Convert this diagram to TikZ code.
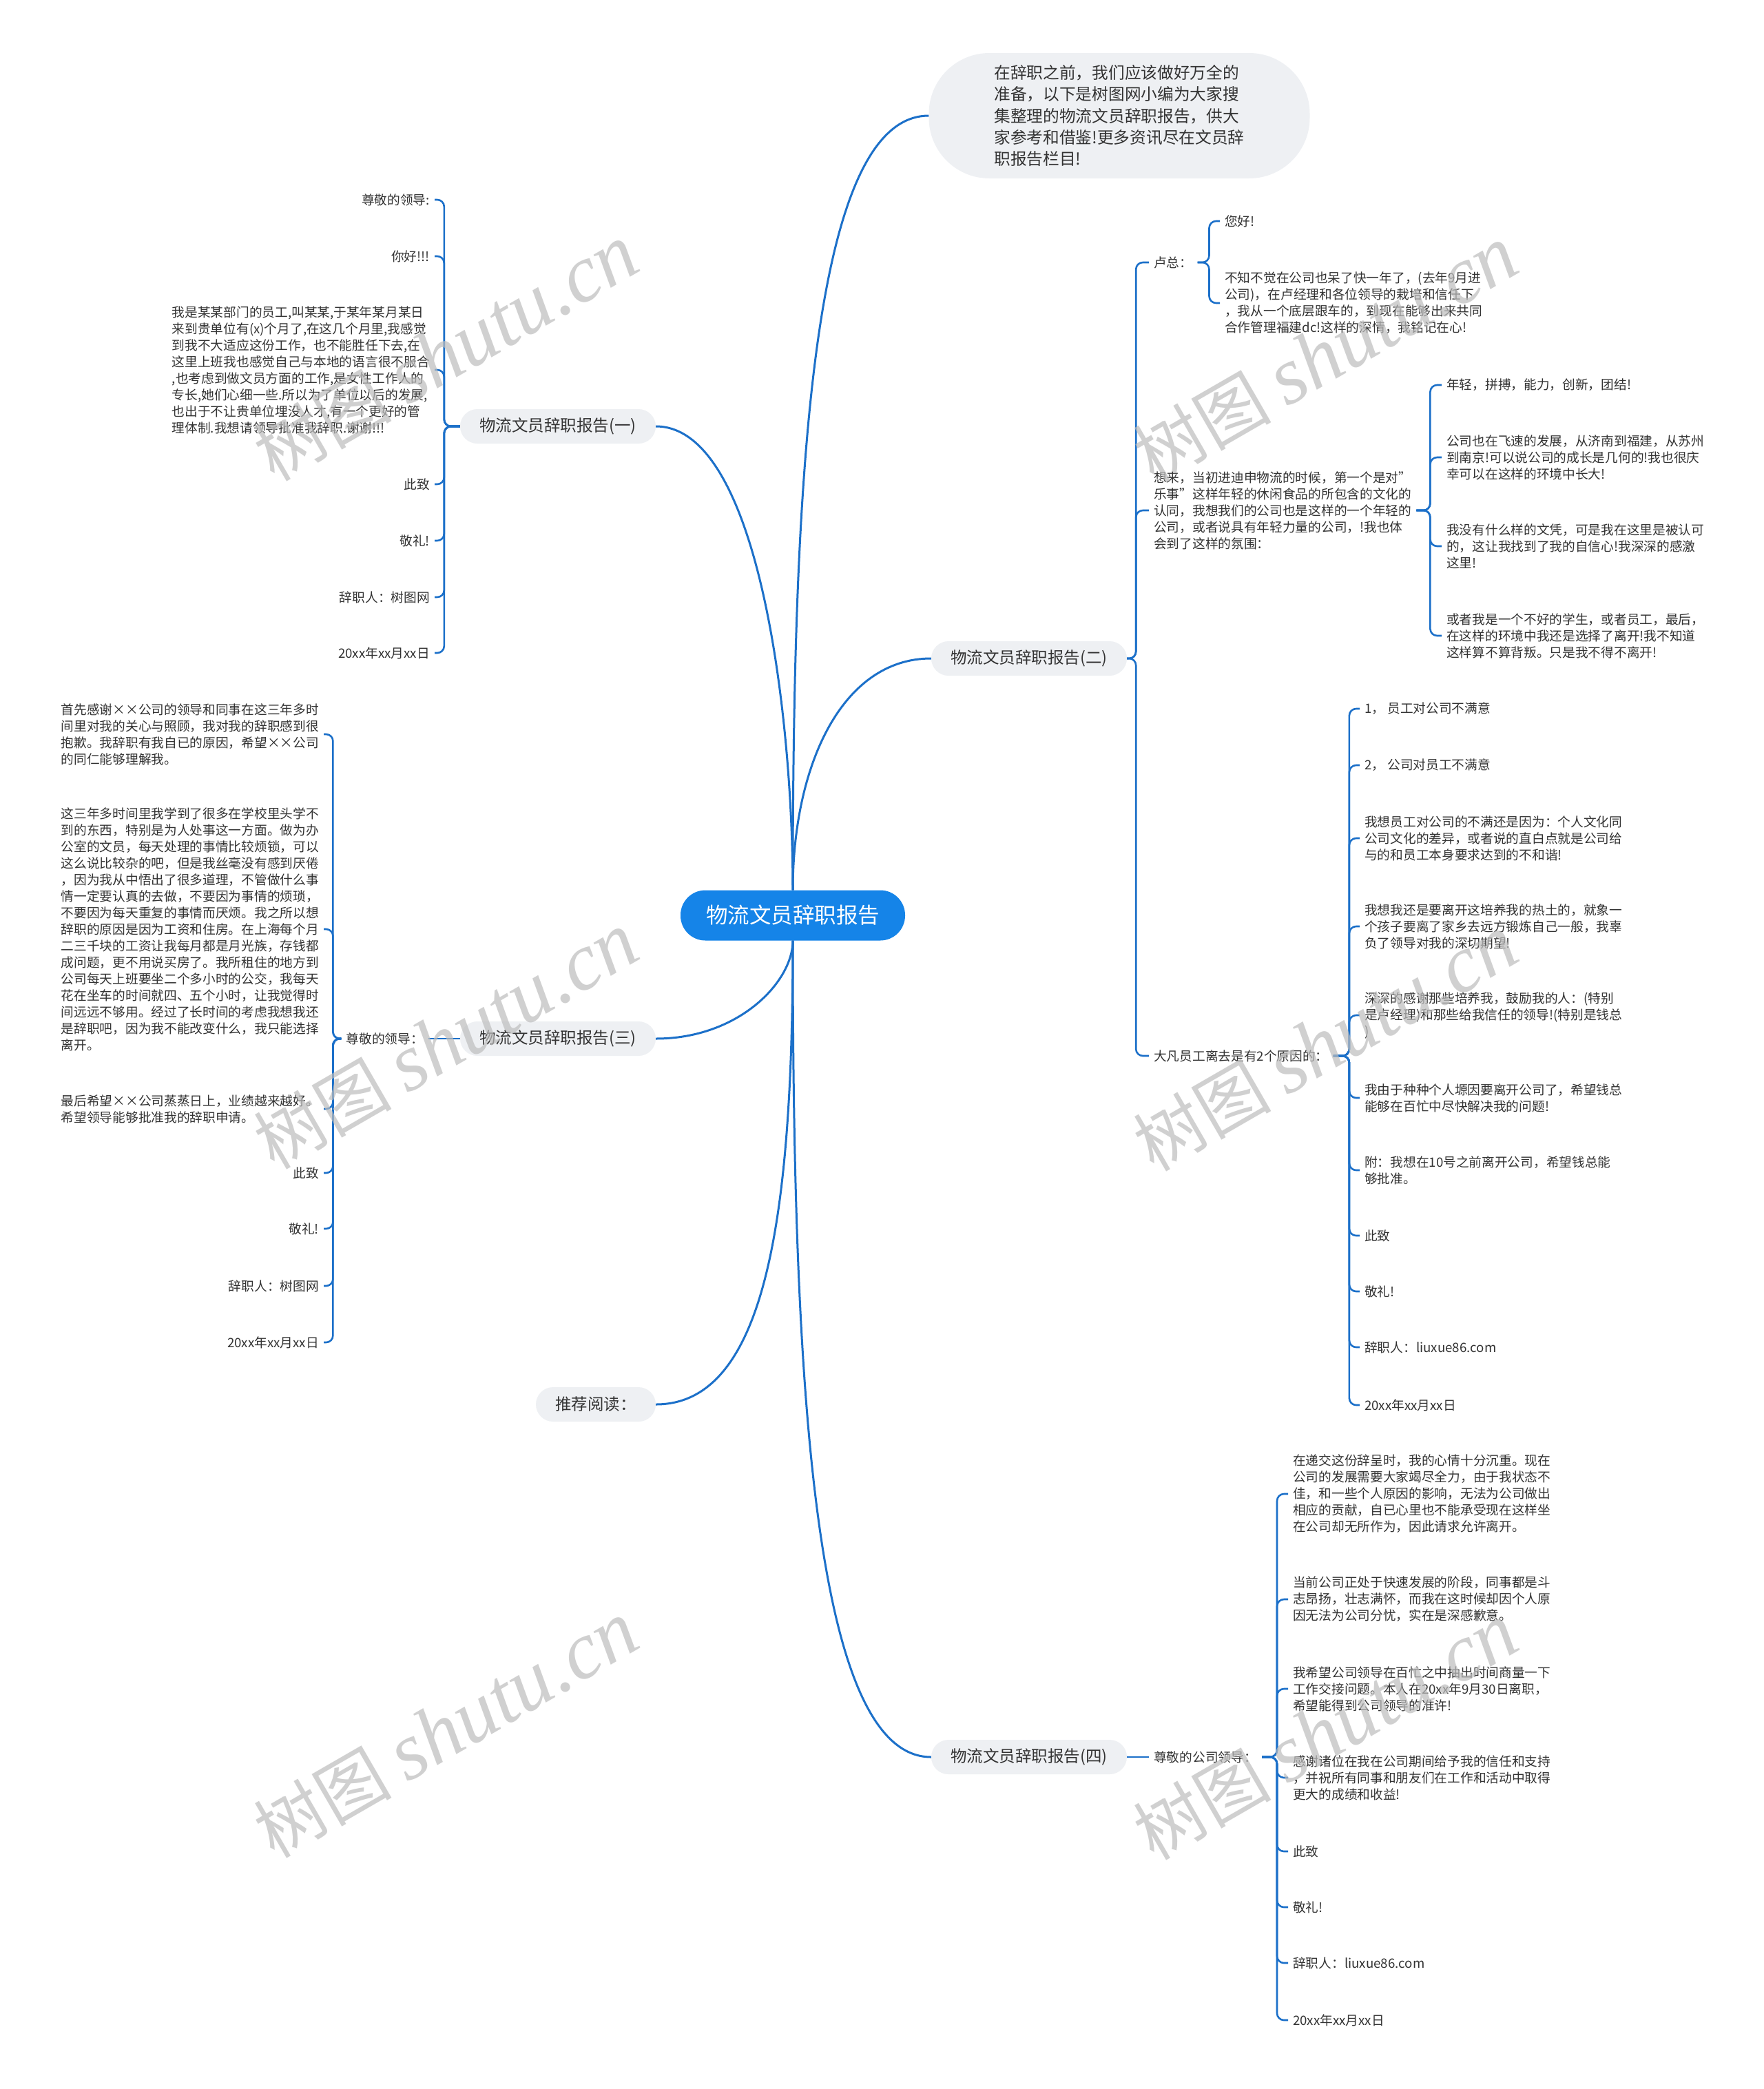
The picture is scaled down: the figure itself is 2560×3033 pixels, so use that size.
\documentclass[tikz,border=0pt]{standalone}
\usepackage{fontspec}
\setmainfont{Noto Sans CJK SC}
\newfontfamily\wmserif{Liberation Serif}
\usepackage{tikz}

\definecolor{rootblue}{HTML}{1584E8}
\definecolor{lineblue}{HTML}{1C70C9}
\definecolor{topicgray}{HTML}{EEF0F3}
\definecolor{inkgray}{HTML}{333333}
\definecolor{markgray}{HTML}{BDBDBD}

\newcommand{\rootfont}{\fontsize{31.5pt}{38pt}\selectfont}
\newcommand{\topicfont}{\fontsize{23.5pt}{28pt}\selectfont}
\newcommand{\introfont}{\fontsize{23.7pt}{31.4pt}\selectfont}
\newcommand{\leaffont}{\fontsize{18.7pt}{24pt}\selectfont}
\newcommand{\markfont}{\fontsize{100pt}{110pt}\selectfont}

\begin{document}
\begin{tikzpicture}[
  x=1pt, y=-1pt,
  root/.style={fill=rootblue, text=white, rounded corners=36pt, minimum width=326pt, minimum height=73pt, font=\rootfont},
  topic/.style={fill=topicgray, text=inkgray, rounded corners=25pt, minimum width=284pt, minimum height=50pt, font=\topicfont},
  bubble/.style={fill=topicgray, text=inkgray, rounded corners=88pt, minimum width=553pt, minimum height=182pt, align=left, font=\introfont},
  leaf/.style={text=inkgray, inner xsep=7pt, inner ysep=2pt, font=\leaffont, align=left},
  lleaf/.style={leaf, anchor=east},
  rleaf/.style={leaf, anchor=west},
  main/.style={draw=lineblue, line width=3pt},
  link/.style={draw=lineblue, line width=2.6pt, rounded corners=10pt},
  wmark/.style={rotate=30, text=markgray, text opacity=0.7, font=\markfont}
]
\fill[white] (0,0) rectangle (2560,3033);
\useasboundingbox (0,0) rectangle (2560,3033);

\node[root] (root) at (1151,1329) {物流文员辞职报告};
\node[bubble] (intro) at (1625,168) {在辞职之前，我们应该做好万全的\\准备，以下是树图网小编为大家搜\\集整理的物流文员辞职报告，供大\\家参考和借鉴!更多资讯尽在文员辞\\职报告栏目!};
\node[topic] (rep1) at (810,619) {物流文员辞职报告(一)};
\node[topic] (rep2) at (1494,956) {物流文员辞职报告(二)};
\node[topic] (rep3) at (810,1508) {物流文员辞职报告(三)};
\node[topic, minimum width=174pt] (read) at (865,2039) {推荐阅读：};
\node[topic] (rep4) at (1494,2551) {物流文员辞职报告(四)};

\draw[main] (root.north) .. controls +(0,-600) and +(-170,0) .. (intro.west);
\draw[main] (root.north) .. controls +(0,-250) and +(150,0) .. (rep1.east);
\draw[main] (root.north) .. controls +(0,-180) and +(-130,0) .. (rep2.west);
\draw[main] (root.south) .. controls +(0,60) and +(120,0) .. (rep3.east);
\draw[main] (root.south) .. controls +(0,400) and +(160,0) .. (read.east);
\draw[main] (root.south) .. controls +(0,650) and +(-170,0) .. (rep4.west);

% (一)
\node[lleaf] (a1) at (631,290) {尊敬的领导:};
\node[lleaf] (a2) at (631,372) {你好!!!};
\node[lleaf] (a3) at (631,537) {我是某某部门的员工,叫某某,于某年某月某日\\来到贵单位有(x)个月了,在这几个月里,我感觉\\到我不大适应这份工作，也不能胜任下去,在\\这里上班我也感觉自己与本地的语言很不服合\\,也考虑到做文员方面的工作,是女性工作人的\\专长,她们心细一些.所以为了单位以后的发展,\\也出于不让贵单位埋没人才,有一个更好的管\\理体制.我想请领导批准我辞职.谢谢!!!};
\node[lleaf] (a4) at (631,703) {此致};
\node[lleaf] (a5) at (631,785) {敬礼!};
\node[lleaf] (a6) at (631,867) {辞职人：树图网};
\node[lleaf] (a7) at (631,948) {20xx年xx月xx日};
\foreach \i in {1,...,7}
  \draw[link] (rep1.west) -- ++(-23,0) |- (a\i.east);

% (二)
\node[rleaf] (lz) at (1668,381) {卢总：};
\node[rleaf] (xl) at (1668,741) {想来，当初进迪申物流的时候，第一个是对"\\乐事"这样年轻的休闲食品的所包含的文化的\\认同，我想我们的公司也是这样的一个年轻的\\公司，或者说具有年轻力量的公司，!我也体\\会到了这样的氛围：};
\node[rleaf] (df) at (1668,1533) {大凡员工离去是有2个原因的：};
\foreach \n in {lz,xl,df}
  \draw[link] (rep2.east) -- ++(13,0) |- (\n.west);

\node[rleaf] (lz1) at (1771,321) {您好!};
\node[rleaf] (lz2) at (1771,440) {不知不觉在公司也呆了快一年了，(去年9月进\\公司)，在卢经理和各位领导的栽培和信任下\\，我从一个底层跟车的，到现在能够出来共同\\合作管理福建dc!这样的深情，我铭记在心!};
\foreach \i in {1,2}
  \draw[link] (lz.east) -- ++(17,0) |- (lz\i.west);

\node[rleaf] (xl1) at (2093,559) {年轻，拼搏，能力，创新，团结!};
\node[rleaf] (xl2) at (2093,664) {公司也在飞速的发展，从济南到福建，从苏州\\到南京!可以说公司的成长是几何的!我也很庆\\幸可以在这样的环境中长大!};
\node[rleaf] (xl3) at (2093,793) {我没有什么样的文凭，可是我在这里是被认可\\的，这让我找到了我的自信心!我深深的感激\\这里!};
\node[rleaf] (xl4) at (2093,923) {或者我是一个不好的学生，或者员工，最后，\\在这样的环境中我还是选择了离开!我不知道\\这样算不算背叛。只是我不得不离开!};
\foreach \i in {1,...,4}
  \draw[link] (xl.east) -- ++(20,0) |- (xl\i.west);

\node[rleaf] (df1) at (1974,1029) {1， 员工对公司不满意};
\node[rleaf] (df2) at (1974,1111) {2， 公司对员工不满意};
\node[rleaf] (df3) at (1974,1217) {我想员工对公司的不满还是因为：个人文化同\\公司文化的差异，或者说的直白点就是公司给\\与的和员工本身要求达到的不和谐!};
\node[rleaf] (df4) at (1974,1345) {我想我还是要离开这培养我的热土的，就象一\\个孩子要离了家乡去远方锻炼自己一般，我辜\\负了领导对我的深切期望!};
\node[rleaf] (df5) at (1974,1474) {深深的感谢那些培养我，鼓励我的人：(特别\\是卢经理)和那些给我信任的领导!(特别是钱总\\)};
\node[rleaf] (df6) at (1974,1594) {我由于种种个人塬因要离开公司了，希望钱总\\能够在百忙中尽快解决我的问题!};
\node[rleaf] (df7) at (1974,1699) {附：我想在10号之前离开公司，希望钱总能\\够批准。};
\node[rleaf] (df8) at (1974,1794) {此致};
\node[rleaf] (df9) at (1974,1875) {敬礼!};
\node[rleaf] (df10) at (1974,1956) {辞职人：liuxue86.com};
\node[rleaf] (df11) at (1974,2040) {20xx年xx月xx日};
\foreach \i in {1,...,11}
  \draw[link] (df.east) -- ++(23,0) |- (df\i.west);

% (三)
\node[lleaf] (zl) at (622,1508) {尊敬的领导：};
\draw[link] (rep3.west) -- (zl.east);
\node[lleaf] (c1) at (470,1066) {首先感谢××公司的领导和同事在这三年多时\\间里对我的关心与照顾，我对我的辞职感到很\\抱歉。我辞职有我自已的原因，希望××公司\\的同仁能够理解我。};
\node[lleaf] (c2) at (470,1349) {这三年多时间里我学到了很多在学校里头学不\\到的东西，特别是为人处事这一方面。做为办\\公室的文员，每天处理的事情比较烦锁，可以\\这么说比较杂的吧，但是我丝毫没有感到厌倦\\，因为我从中悟出了很多道理，不管做什么事\\情一定要认真的去做，不要因为事情的烦琐，\\不要因为每天重复的事情而厌烦。我之所以想\\辞职的原因是因为工资和住房。在上海每个月\\二三千块的工资让我每月都是月光族，存钱都\\成问题，更不用说买房了。我所租住的地方到\\公司每天上班要坐二个多小时的公交，我每天\\花在坐车的时间就四、五个小时，让我觉得时\\间远远不够用。经过了长时间的考虑我想我还\\是辞职吧，因为我不能改变什么，我只能选择\\离开。};
\node[lleaf] (c3) at (470,1610) {最后希望××公司蒸蒸日上，业绩越来越好。\\希望领导能够批准我的辞职申请。};
\node[lleaf] (c4) at (470,1703) {此致};
\node[lleaf] (c5) at (470,1784) {敬礼!};
\node[lleaf] (c6) at (470,1867) {辞职人：树图网};
\node[lleaf] (c7) at (470,1949) {20xx年xx月xx日};
\foreach \i in {1,...,7}
  \draw[link] (zl.west) -- ++(-12,0) |- (c\i.east);

% (四)
\node[rleaf] (gl) at (1668,2551) {尊敬的公司领导：};
\draw[link] (rep4.east) -- (gl.west);
\node[rleaf] (d1) at (1870,2169) {在递交这份辞呈时，我的心情十分沉重。现在\\公司的发展需要大家竭尽全力，由于我状态不\\佳，和一些个人原因的影响，无法为公司做出\\相应的贡献，自已心里也不能承受现在这样坐\\在公司却无所作为，因此请求允许离开。};
\node[rleaf] (d2) at (1870,2322) {当前公司正处于快速发展的阶段，同事都是斗\\志昂扬，壮志满怀，而我在这时候却因个人原\\因无法为公司分忧，实在是深感歉意。};
\node[rleaf] (d3) at (1870,2452) {我希望公司领导在百忙之中抽出时间商量一下\\工作交接问题。本人在20xx年9月30日离职，\\希望能得到公司领导的准许!};
\node[rleaf] (d4) at (1870,2581) {感谢诸位在我在公司期间给予我的信任和支持\\，并祝所有同事和朋友们在工作和活动中取得\\更大的成绩和收益!};
\node[rleaf] (d5) at (1870,2688) {此致};
\node[rleaf] (d6) at (1870,2769) {敬礼!};
\node[rleaf] (d7) at (1870,2850) {辞职人：liuxue86.com};
\node[rleaf] (d8) at (1870,2933) {20xx年xx月xx日};
\foreach \i in {1,...,8}
  \draw[link] (gl.east) -- ++(22,0) |- (d\i.west);

\foreach \x/\y in {648/513, 648/1512, 648/2512, 1925/515, 1925/1515, 1925/2515}
  \node[wmark] at (\x,\y) {树图 {\wmserif\itshape\fontsize{118pt}{120pt}\selectfont shutu.cn}};
\end{tikzpicture}
\end{document}
